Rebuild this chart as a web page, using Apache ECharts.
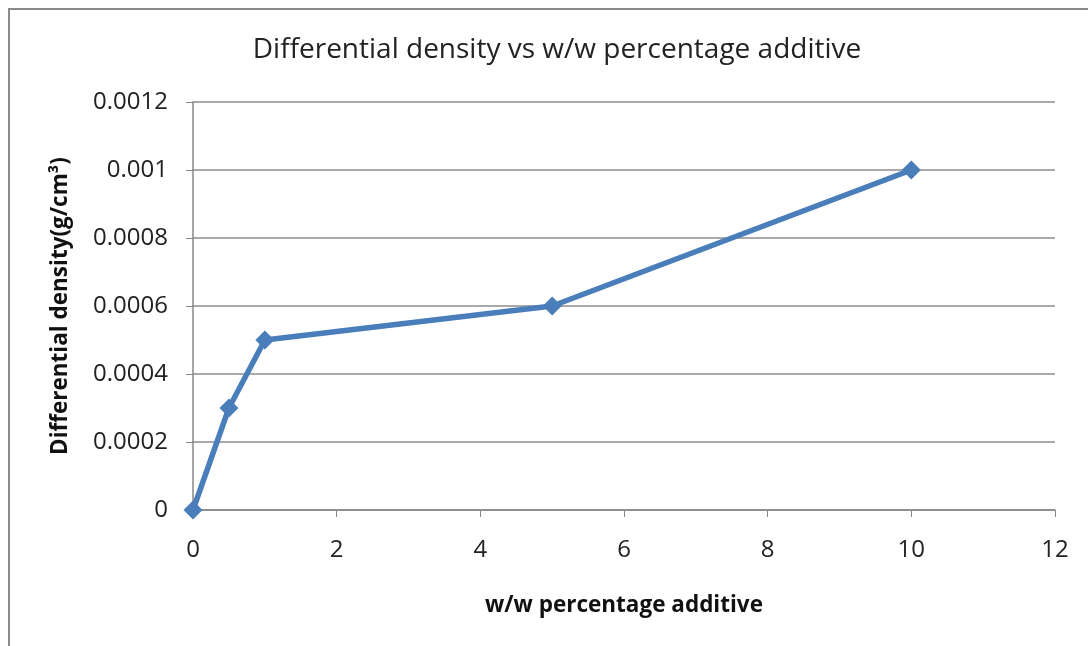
<!DOCTYPE html>
<html><head><meta charset="utf-8">
<script src="https://cdn.jsdelivr.net/npm/echarts@6/dist/echarts.min.js"></script>
<style>html,body{margin:0;padding:0;background:#fff}#c{width:1088px;height:646px}</style>
</head><body><div id="c"></div>
<script>
const xValues = [0, 0.5, 1, 5, 10];
const yValues = [0, 0.0003, 0.0005, 0.0006, 0.001];
const titleText = 'Differential density vs w/w percentage additive';
const xTitle = 'w/w percentage additive';
const yTitle = 'Differential density(g/cm³)';

const chart = echarts.init(document.getElementById('c'));
const font = 'Open Sans';
chart.setOption({
  animation: false,
  backgroundColor: '#fff',
  title: {
    text: titleText, left: 552, top: 31, textAlign: 'center',
    textStyle: {fontFamily: font, fontSize: 28, fontWeight: 'normal', color: '#222'}
  },
  graphic: [
    {type: 'polyline', shape: {points: [[9, 646], [9, 9], [1088, 9]]}, style: {stroke: '#8a8a8a', lineWidth: 2, fill: null}}
  ],
  grid: {left: 193, right: 33, top: 102, bottom: 136},
  xAxis: {
    type: 'value', min: 0, max: 12, interval: 2,
    name: xTitle, nameLocation: 'middle', nameGap: 84,
    nameTextStyle: {fontFamily: font, fontSize: 22.5, fontWeight: 'bold', color: '#111'},
    axisLine: {show: true, lineStyle: {color: '#888', width: 1.5}},
    axisTick: {show: true, length: 7, lineStyle: {color: '#888'}},
    axisLabel: {fontFamily: font, fontSize: 24, color: '#222', margin: 28},
    splitLine: {show: false}
  },
  yAxis: {
    type: 'value', min: 0, max: 0.0012, interval: 0.0002,
    name: yTitle, nameLocation: 'middle', nameGap: 121,
    nameTextStyle: {fontFamily: font, fontSize: 22.5, fontWeight: 'bold', color: '#111'},
    axisLine: {show: true, lineStyle: {color: '#888', width: 1.5}},
    axisTick: {show: true, length: 7, lineStyle: {color: '#888'}},
    axisLabel: {fontFamily: font, fontSize: 24, color: '#222', margin: 25,
      formatter: v => v === 0 ? '0' : String(parseFloat(v.toFixed(4)))},
    splitLine: {show: true, lineStyle: {color: '#8c8c8c', width: 1.5}}
  },
  series: [{
    type: 'line',
    data: xValues.map((x, i) => [x, yValues[i]]),
    symbol: 'diamond', symbolSize: 19,
    lineStyle: {color: '#4a7ebb', width: 5.5},
    itemStyle: {color: '#4a7ebb'}
  }]
});
</script></body></html>
